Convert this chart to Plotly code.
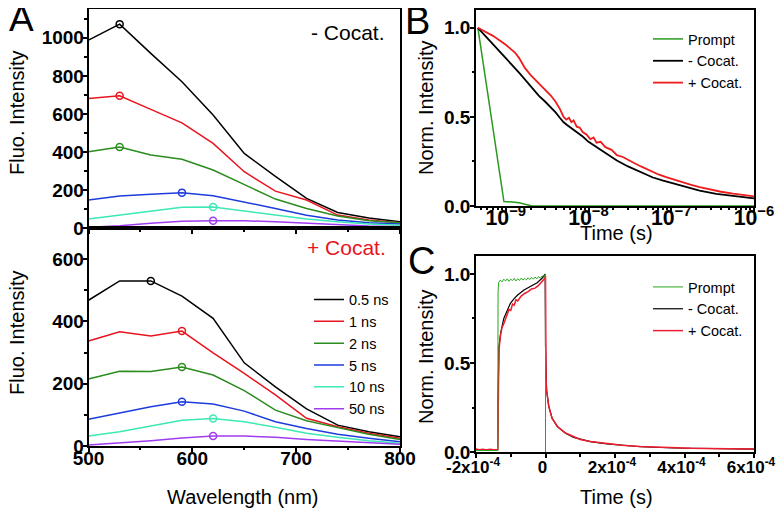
import plotly.graph_objects as go

FONT = "Liberation Sans, Arial, sans-serif"
# positions below are given in window pixels; the page keeps an 8px margin
OX, OY = 8, 8
W, H = 776, 504

# ---------------- panel A: time-resolved emission spectra ----------------
wavelength = [500, 530, 560, 590, 620, 650, 680, 710, 740, 770, 800]
delays = ["0.5 ns", "1 ns", "2 ns", "5 ns", "10 ns", "50 ns"]
colors = ["#000000", "#e8141e", "#2a8c1e", "#1e3cdc", "#3ce8b4", "#a03cf0"]

spec_no_cocat = [
    [988, 1072, 918, 769, 594, 392, 272, 156, 82, 52, 33],
    [681, 695, 624, 553, 445, 296, 194, 147, 68, 42, 28],
    [401, 426, 384, 361, 305, 230, 152, 103, 63, 38, 28],
    [147, 168, 177, 186, 170, 138, 103, 67, 42, 28, 21],
    [47, 68, 89, 109, 110, 89, 68, 47, 33, 21, 14],
    [4, 12, 25, 35, 38, 38, 33, 25, 17, 10, 7],
]
spec_cocat = [
    [468, 530, 530, 481, 410, 267, 190, 119, 67, 46, 30],
    [337, 367, 353, 369, 299, 233, 164, 89, 62, 41, 25],
    [215, 240, 239, 254, 228, 178, 115, 81, 59, 38, 21],
    [86, 107, 126, 142, 135, 112, 78, 56, 38, 25, 14],
    [32, 46, 64, 83, 88, 78, 60, 41, 28, 17, 9],
    [3, 9, 17, 26, 32, 32, 28, 21, 16, 11, 6],
]
peak_no_cocat = [530, 530, 530, 590, 620, 620]
peak_cocat = [560, 590, 590, 590, 620, 620]

# ---------------- panel B: ns decay (log time) ----------------
b_prompt_t = [4.6e-10, 9.5e-10, 1.2e-9, 1.45e-9, 1.7e-9, 2.1e-9, 1e-6]
b_prompt_v = [1.0, 0.025, 0.022, 0.018, 0.01, 0.0, 0.0]

b_no_t = [4.6e-10, 7e-10, 1.0e-9, 1.5e-9, 2.0e-9, 2.5e-9, 3.0e-9, 3.5e-9, 4.0e-9,
          4.5e-9, 5.0e-9, 5.5e-9, 6.0e-9, 7.0e-9, 8.5e-9, 1.0e-8, 1.3e-8, 1.7e-8,
          2.2e-8, 3.0e-8, 4.3e-8, 6e-8, 8e-8, 1.0e-7, 1.5e-7, 2.2e-7, 3.5e-7,
          5.6e-7, 8e-7, 1.0e-6]
b_no_v = [1.0, 0.91, 0.83, 0.74, 0.67, 0.62, 0.585, 0.555, 0.525,
          0.495, 0.47, 0.455, 0.443, 0.42, 0.39, 0.36, 0.325, 0.29,
          0.255, 0.222, 0.19, 0.16, 0.142, 0.13, 0.106, 0.086, 0.068,
          0.056, 0.048, 0.043]

b_co_t = [4.6e-10, 7e-10, 1.0e-9, 1.3e-9, 1.45e-9, 1.7e-9, 2.0e-9, 2.5e-9, 3.0e-9,
          3.5e-9, 4.0e-9, 4.5e-9, 5.0e-9, 5.4e-9, 5.8e-9, 6.2e-9, 6.6e-9, 7.2e-9,
          7.8e-9, 8.5e-9, 9.5e-9, 1.05e-8, 1.15e-8, 1.25e-8, 1.4e-8, 1.6e-8,
          1.9e-8, 2.2e-8, 2.6e-8, 3.0e-8, 3.6e-8, 4.3e-8, 5e-8, 6e-8, 7e-8,
          8.5e-8, 1.0e-7, 1.3e-7, 1.7e-7, 2.2e-7, 3e-7, 4e-7, 5.6e-7, 7e-7,
          8.5e-7, 1.0e-6]
b_co_v = [1.0, 0.955, 0.905, 0.86, 0.83, 0.775, 0.735, 0.69, 0.655,
          0.62, 0.585, 0.545, 0.5, 0.485, 0.495, 0.47, 0.48, 0.445,
          0.44, 0.415, 0.40, 0.375, 0.385, 0.355, 0.36, 0.33,
          0.315, 0.285, 0.275, 0.258, 0.24, 0.222, 0.207, 0.19, 0.177,
          0.163, 0.152, 0.135, 0.12, 0.106, 0.092, 0.08, 0.069, 0.063,
          0.058, 0.054]

# ---------------- panel C: us rise / decay ----------------
c_prompt_t = [-2.0e-4, -1.375e-4, -1.365e-4, -1.35e-4, -1.30e-4, -1.25e-4, -1.20e-4,
              -1.15e-4, -1.10e-4, -1.05e-4, -1.0e-4, -0.95e-4, -0.9e-4, -0.85e-4,
              -0.8e-4, -0.75e-4, -0.7e-4, -0.65e-4, -0.6e-4, -0.55e-4, -0.5e-4,
              -0.45e-4, -0.4e-4, -0.35e-4, -0.3e-4, -0.25e-4, -0.2e-4, -0.15e-4,
              -0.1e-4, -0.05e-4, -0.01e-4, 0.0, 0.0]
c_prompt_v = [0.01, 0.01, 0.9, 0.95, 0.965, 0.955, 0.97,
              0.96, 0.972, 0.958, 0.97, 0.962, 0.975, 0.96,
              0.972, 0.963, 0.976, 0.965, 0.975, 0.966, 0.978,
              0.968, 0.98, 0.97, 0.982, 0.972, 0.985, 0.975,
              0.988, 0.98, 0.995, 1.0, 0.0]

c_no_t = [-2.0e-4, -1.375e-4, -1.365e-4, -1.36e-4, -1.34e-4, -1.29e-4, -1.24e-4,
          -1.20e-4, -1.10e-4, -1.01e-4, -0.91e-4, -0.81e-4, -0.62e-4, -0.43e-4,
          -0.24e-4, -0.10e-4, -0.01e-4, 0.0, 0.005e-4, 0.015e-4, 0.03e-4,
          0.095e-4, 0.19e-4, 0.34e-4, 0.575e-4, 0.81e-4, 1.29e-4, 1.77e-4,
          2.73e-4, 3.69e-4, 4.64e-4, 6.0e-4]
c_no_v = [0.015, 0.015, 0.3, 0.48, 0.59, 0.67, 0.715,
          0.75, 0.795, 0.835, 0.86, 0.88, 0.91, 0.93,
          0.95, 0.975, 0.998, 0.6, 0.5, 0.42, 0.35,
          0.256, 0.191, 0.144, 0.107, 0.084, 0.06, 0.047,
          0.031, 0.024, 0.02, 0.018]

c_co_t = [-2.0e-4, -1.9e-4, -1.8e-4, -1.7e-4, -1.6e-4, -1.5e-4, -1.375e-4, -1.365e-4,
          -1.36e-4, -1.34e-4, -1.30e-4, -1.25e-4, -1.20e-4, -1.15e-4, -1.10e-4,
          -1.05e-4, -1.0e-4, -0.95e-4, -0.9e-4, -0.85e-4, -0.8e-4, -0.7e-4,
          -0.6e-4, -0.5e-4, -0.4e-4, -0.3e-4, -0.2e-4, -0.1e-4, -0.02e-4, 0.0,
          0.0, 0.005e-4, 0.015e-4, 0.03e-4, 0.095e-4, 0.19e-4, 0.34e-4, 0.575e-4,
          0.81e-4, 1.0e-4, 1.29e-4, 1.5e-4, 1.77e-4, 2.2e-4, 2.73e-4, 3.2e-4,
          3.69e-4, 4.2e-4, 4.64e-4, 5.3e-4, 6.0e-4]
c_co_v = [0.018, 0.014, 0.017, 0.013, 0.017, 0.014, 0.015, 0.28,
          0.46, 0.57, 0.65, 0.70, 0.72, 0.75, 0.77,
          0.80, 0.795, 0.83, 0.825, 0.855, 0.848, 0.875,
          0.89, 0.9, 0.915, 0.92, 0.935, 0.955, 0.975, 0.99,
          0.58, 0.5, 0.42, 0.35, 0.258, 0.19, 0.146, 0.108,
          0.086, 0.072, 0.061, 0.055, 0.048, 0.039, 0.032, 0.028,
          0.025, 0.022, 0.021, 0.019, 0.018]


def px(x):
    return (x - OX) / W


def py(y):
    return 1 - (y - OY) / H


def xdom(a, b):
    return [px(a), px(b)]


def ydom(top, bottom):
    return [py(bottom), py(top)]


fig = go.Figure()

# panel A top (- Cocat.)
for i, name in enumerate(delays):
    fig.add_trace(go.Scatter(x=wavelength, y=spec_no_cocat[i], mode="lines",
                             line=dict(color=colors[i], width=1.5),
                             xaxis="x", yaxis="y", showlegend=False))
    j = wavelength.index(peak_no_cocat[i])
    fig.add_trace(go.Scatter(x=[wavelength[j]], y=[spec_no_cocat[i][j]], mode="markers",
                             marker=dict(symbol="circle-open", size=7, color=colors[i],
                                         line=dict(width=1.5)),
                             xaxis="x", yaxis="y", showlegend=False))

# panel A bottom (+ Cocat.)
for i, name in enumerate(delays):
    fig.add_trace(go.Scatter(x=wavelength, y=spec_cocat[i], mode="lines", name=name,
                             line=dict(color=colors[i], width=1.5),
                             xaxis="x2", yaxis="y2", legend="legend"))
    j = wavelength.index(peak_cocat[i])
    fig.add_trace(go.Scatter(x=[wavelength[j]], y=[spec_cocat[i][j]], mode="markers",
                             marker=dict(symbol="circle-open", size=7, color=colors[i],
                                         line=dict(width=1.5)),
                             xaxis="x2", yaxis="y2", showlegend=False))

# panel B
fig.add_trace(go.Scatter(x=b_prompt_t, y=b_prompt_v, mode="lines", name="Prompt",
                         line=dict(color="#2a9a1e", width=1.5),
                         xaxis="x3", yaxis="y3", legend="legend2"))
fig.add_trace(go.Scatter(x=b_no_t, y=b_no_v, mode="lines", name="- Cocat.",
                         line=dict(color="#000000", width=1.8),
                         xaxis="x3", yaxis="y3", legend="legend2"))
fig.add_trace(go.Scatter(x=b_co_t, y=b_co_v, mode="lines", name="+ Cocat.",
                         line=dict(color="#ee1c1c", width=1.8),
                         xaxis="x3", yaxis="y3", legend="legend2"))

# panel C
fig.add_trace(go.Scatter(x=c_no_t, y=c_no_v, mode="lines", name="- Cocat.",
                         line=dict(color="#000000", width=1.2), legendrank=2,
                         xaxis="x4", yaxis="y4", legend="legend3"))
fig.add_trace(go.Scatter(x=c_co_t, y=c_co_v, mode="lines", name="+ Cocat.",
                         line=dict(color="#ee1c2c", width=1.5), legendrank=3,
                         xaxis="x4", yaxis="y4", legend="legend3"))
fig.add_trace(go.Scatter(x=c_prompt_t, y=c_prompt_v, mode="lines", name="Prompt",
                         line=dict(color="#2aa61e", width=1), legendrank=1,
                         xaxis="x4", yaxis="y4", legend="legend3"))

tickfont = dict(family=FONT, size=19, color="black", weight="bold")
base = dict(showline=True, linecolor="black", linewidth=1.5, mirror=True,
            ticks="outside", ticklen=4, tickwidth=1.5, tickcolor="black",
            showgrid=False, zeroline=False, tickfont=tickfont, automargin=False)
minor_t = dict(ticks="outside", ticklen=2.5, tickcolor="black")
leg = dict(xanchor="left", yanchor="top", bgcolor="rgba(0,0,0,0)",
           font=dict(family=FONT, size=14.5), tracegroupgap=0, itemwidth=30)

fig.update_layout(
    width=W, height=H, autosize=False,
    margin=dict(l=0, r=0, t=0, b=0),
    paper_bgcolor="white", plot_bgcolor="white",
    font=dict(family=FONT, color="black"),
    xaxis=dict(base, domain=xdom(88.5, 400), range=[500, 800], dtick=100,
               showticklabels=False, anchor="y", minor=dict(minor_t, dtick=50)),
    yaxis=dict(base, domain=ydom(9.3, 228), range=[0, 1150], dtick=200, anchor="x",
               ticklabelstandoff=-5, minor=dict(minor_t, dtick=100)),
    xaxis2=dict(base, domain=xdom(88.5, 400), range=[500, 800], dtick=100, anchor="y2",
                ticklabelstandoff=-10, minor=dict(minor_t, dtick=50)),
    yaxis2=dict(base, domain=ydom(228, 446), range=[0, 700], dtick=200, anchor="x2",
                ticklabelstandoff=-5, minor=dict(minor_t, dtick=100)),
    xaxis3=dict(base, domain=xdom(476, 754), type="log", range=[-9.36, -6], dtick=1,
                exponentformat="power", anchor="y3", ticklabelstandoff=-11,
                tickfont=dict(family=FONT, size=17, color="black", weight="bold"),
                minor=dict(minor_t, dtick="D1")),
    yaxis3=dict(base, domain=ydom(10, 206), range=[0, 1.1], dtick=0.5, tickformat=".1f",
                anchor="x3", ticklabelstandoff=-4, minor=dict(minor_t, dtick=0.25)),
    xaxis4=dict(base, domain=xdom(476, 754), range=[-2e-4, 6e-4], anchor="y4",
                tickvals=[-2e-4, 0, 2e-4, 4e-4, 6e-4],
                ticktext=["-2x10<sup>-4</sup>", "0", "2x10<sup>-4</sup>",
                          "4x10<sup>-4</sup>", "6x10<sup>-4</sup>"],
                tickfont=dict(family=FONT, size=17, color="black", weight="bold"),
                ticklabelstandoff=-5, ticklabelshift=-3,
                minor=dict(minor_t, dtick=1e-4)),
    yaxis4=dict(base, domain=ydom(256, 452.3), range=[0, 1.1], dtick=0.5, tickformat=".1f",
                anchor="x4", ticklabelstandoff=-4, minor=dict(minor_t, dtick=0.25)),
    legend=dict(leg, x=px(309), y=py(283.5)),
    legend2=dict(leg, x=px(648), y=py(23)),
    legend3=dict(leg, x=px(648), y=py(271)),
)


def label(text, x, y, size=20, angle=0, color="black"):
    fig.add_annotation(text=text, x=px(x), y=py(y), xref="paper", yref="paper",
                       showarrow=False, textangle=angle, xanchor="center", yanchor="middle",
                       font=dict(family=FONT, size=size, color=color))


label("A", 21, 18, size=37)
label("B", 417, 21, size=38)
label("C", 421, 261, size=38)
label("Fluo. Intensity", 17, 113, angle=-90)
label("Fluo. Intensity", 17, 333, angle=-90)
label("Norm. Intensity", 426, 108, angle=-90)
label("Norm. Intensity", 426, 357, angle=-90)
label("Wavelength (nm)", 243, 497)
label("Time (s)", 616, 233)
label("Time (s)", 616, 497)
label("- Cocat.", 348, 32, size=21)
label("+ Cocat.", 346, 247, size=21, color="#e8141e")

fig.write_html("out.html")
